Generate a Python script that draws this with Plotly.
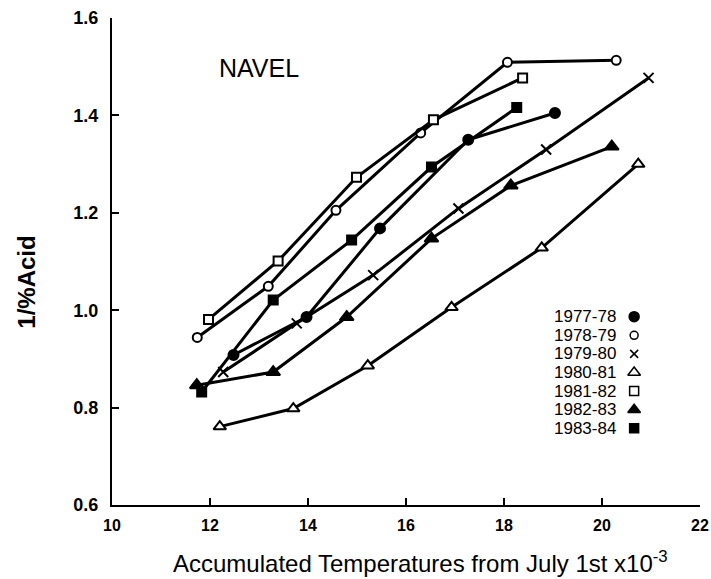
import plotly.graph_objects as go

seasons = ["1977-78", "1978-79", "1979-80", "1980-81", "1981-82", "1982-83", "1983-84"]

x_7778 = [12.48, 13.97, 15.47, 17.27, 19.04]
y_7778 = [0.908, 0.986, 1.168, 1.350, 1.405]

x_7879 = [11.74, 13.19, 14.57, 16.30, 18.07, 20.29]
y_7879 = [0.944, 1.049, 1.205, 1.364, 1.509, 1.513]

x_7980 = [12.27, 13.77, 15.33, 17.07, 18.86, 20.95]
y_7980 = [0.873, 0.973, 1.072, 1.209, 1.330, 1.477]

x_8081 = [12.20, 13.70, 15.22, 16.93, 18.77, 20.74]
y_8081 = [0.761, 0.798, 0.886, 1.006, 1.128, 1.300]

x_8182 = [11.97, 13.39, 14.99, 16.56, 18.38]
y_8182 = [0.981, 1.101, 1.273, 1.391, 1.477]

x_8283 = [11.73, 13.29, 14.79, 16.52, 18.14, 20.20]
y_8283 = [0.846, 0.873, 0.986, 1.147, 1.256, 1.336]

x_8384 = [11.83, 13.29, 14.89, 16.52, 18.26]
y_8384 = [0.832, 1.021, 1.144, 1.294, 1.416]

xs = [x_7778, x_7879, x_7980, x_8081, x_8182, x_8283, x_8384]
ys = [y_7778, y_7879, y_7980, y_8081, y_8182, y_8283, y_8384]

symbols = ["circle", "circle", "x-thin", "triangle-up", "square", "triangle-up", "square"]
fills = ["black", "white", "black", "white", "white", "black", "black"]
sizes = [10, 9, 10, 11, 9, 12, 9]
legend_sizes = [10, 8, 8, 11, 9, 11, 9]

x_ticks = [10, 12, 14, 16, 18, 20, 22]
y_ticks = [0.6, 0.8, 1.0, 1.2, 1.4, 1.6]

FONT = "Liberation Sans, Arial, sans-serif"

fig = go.Figure()
for name, x, y, sym, fc, sz in zip(seasons, xs, ys, symbols, fills, sizes):
    fig.add_trace(go.Scatter(
        x=x, y=y, mode="lines+markers", name=name, showlegend=False,
        line=dict(color="black", width=3),
        marker=dict(symbol=sym, size=sz, color=fc,
                    line=dict(color="black", width=2)),
    ))

# custom legend: text then symbol
leg_x_text = 0.859
leg_x_sym = 0.888
leg_y0 = 0.3867
leg_dy = 0.0382
for i, (name, sym, fc, sz) in enumerate(zip(seasons, symbols, fills, legend_sizes)):
    yy = leg_y0 - i * leg_dy
    fig.add_annotation(x=leg_x_text, y=yy, xref="paper", yref="paper",
                       text=name, showarrow=False, xanchor="right", yanchor="middle",
                       borderpad=0,
                       font=dict(family=FONT, size=17, color="black"))
    fig.add_trace(go.Scatter(
        x=[leg_x_sym], y=[yy], xaxis="x2", yaxis="y2", mode="markers",
        showlegend=False, hoverinfo="skip",
        marker=dict(symbol=sym, size=sz, color=fc,
                    line=dict(color="black", width=1.5)),
    ))

fig.add_annotation(x=0.25, y=0.898, xref="paper", yref="paper", text="NAVEL",
                   showarrow=False, xanchor="center", yanchor="middle",
                   font=dict(family=FONT, size=25, color="black"))

# axis titles
fig.add_annotation(x=0.524, y=-0.118, xref="paper", yref="paper",
                   text="Accumulated Temperatures from July 1st x10<sup>-3</sup>",
                   showarrow=False, xanchor="center", yanchor="middle",
                   font=dict(family=FONT, size=24, color="black"))
fig.add_annotation(x=-0.145, y=0.458, xref="paper", yref="paper",
                   text="<b>1/%Acid</b>", textangle=-90,
                   showarrow=False, xanchor="center", yanchor="middle",
                   font=dict(family=FONT, size=24, color="black"))

fig.update_layout(
    width=711, height=579,
    margin=dict(l=112, r=11, t=18, b=74),
    paper_bgcolor="white", plot_bgcolor="white",
    showlegend=False,
    font=dict(family=FONT, color="black"),
    xaxis=dict(range=[10, 22], tickvals=x_ticks, ticktext=[str(v) for v in x_ticks],
               ticks="inside", ticklen=7, tickwidth=1.5, tickcolor="black",
               showline=True, linecolor="black", linewidth=2, showgrid=False,
               zeroline=False, mirror=False, automargin=False,
               ticklabelstandoff=5,
               tickfont=dict(family=FONT, size=16, color="black", weight="bold")),
    yaxis=dict(range=[0.6, 1.6], tickvals=y_ticks, ticktext=["%.1f" % v for v in y_ticks],
               ticks="inside", ticklen=7, tickwidth=1.5, tickcolor="black",
               showline=True, linecolor="black", linewidth=2, showgrid=False,
               zeroline=False, automargin=False,
               ticklabelstandoff=8,
               tickfont=dict(family=FONT, size=18, color="black", weight="bold")),
    xaxis2=dict(range=[0, 1], overlaying="x", visible=False, fixedrange=True),
    yaxis2=dict(range=[0, 1], overlaying="y", visible=False, fixedrange=True),
)

fig.write_html("out.html")
